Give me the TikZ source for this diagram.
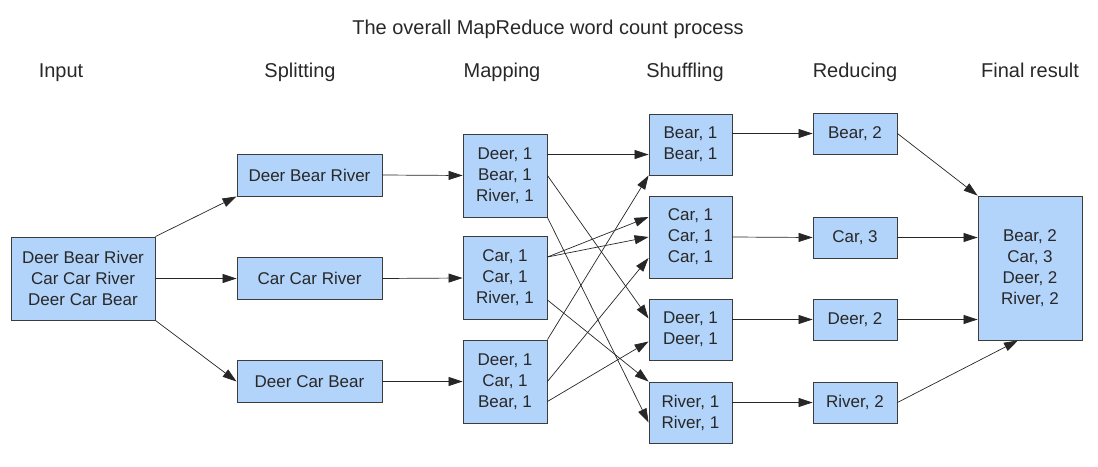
\documentclass[tikz,border=0pt]{standalone}
\usepackage{fontspec}
\setmainfont{Liberation Sans}
\usetikzlibrary{arrows.meta}
\definecolor{boxblue}{RGB}{178,211,250}
\definecolor{boxline}{RGB}{60,60,60}
\definecolor{txtgray}{RGB}{40,40,40}
\begin{document}
\begin{tikzpicture}[x=1pt,y=-1pt,
		wbox/.style={draw=boxline,fill=boxblue,line width=0.9pt,inner sep=0pt,align=center,text=txtgray,font=\fontsize{17}{21}\selectfont},
		head/.style={anchor=base,text=txtgray,font=\fontsize{20}{24}\selectfont},
		flow/.style={-{Triangle[length=14pt,width=9pt]},line width=0.7pt,draw=black!85}]
			\useasboundingbox (0,0) rectangle (1098,466);
			\node[head] at (548,34) (title) {The overall MapReduce word count process};
			\node[head] at (61,77) (hin) {Input};
			\node[head] at (300,77) (hsp) {Splitting};
			\node[head] at (502,77) (hmap) {Mapping};
			\node[head] at (685,77) (hsh) {Shuffling};
			\node[head] at (855,77) (hred) {Reducing};
			\node[head] at (1030,77) (hfin) {Final result};
			\node[wbox,minimum width=144pt,minimum height=83pt] at (83,278.5) (inp) {Deer Bear River\\Car Car River\\Deer Car Bear};
			\node[wbox,minimum width=145pt,minimum height=42pt] at (309.5,175) (spl1) {Deer Bear River};
			\node[wbox,minimum width=145pt,minimum height=42pt] at (309.5,278.5) (spl2) {Car Car River};
			\node[wbox,minimum width=145pt,minimum height=42pt] at (309.5,381.5) (spl3) {Deer Car Bear};
			\node[wbox,minimum width=84pt,minimum height=83pt] at (505,175.5) (map1) {Deer, 1\\Bear, 1\\River, 1};
			\node[wbox,minimum width=84pt,minimum height=83pt] at (505,278) (map2) {Car, 1\\Car, 1\\River, 1};
			\node[wbox,minimum width=84pt,minimum height=83pt] at (505,381.5) (map3) {Deer, 1\\Car, 1\\Bear, 1};
			\node[wbox,minimum width=83pt,minimum height=61pt] at (690.5,144.5) (shb) {Bear, 1\\Bear, 1};
			\node[wbox,minimum width=83pt,minimum height=82pt] at (690.5,237) (shc) {Car, 1\\Car, 1\\Car, 1};
			\node[wbox,minimum width=83pt,minimum height=61pt] at (690.5,329.5) (shd) {Deer, 1\\Deer, 1};
			\node[wbox,minimum width=83pt,minimum height=61pt] at (690.5,412.5) (shr) {River, 1\\River, 1};
			\node[wbox,minimum width=84pt,minimum height=41pt] at (855,133.5) (red1) {Bear, 2};
			\node[wbox,minimum width=84pt,minimum height=41pt] at (855,237.5) (red2) {Car, 3};
			\node[wbox,minimum width=84pt,minimum height=41pt] at (855,319.5) (red3) {Deer, 2};
			\node[wbox,minimum width=84pt,minimum height=41pt] at (855,402.5) (red4) {River, 2};
			\node[wbox,minimum width=104pt,minimum height=144pt] at (1030,268) (fin) {Bear, 2\\Car, 3\\Deer, 2\\River, 2};
			\draw[flow] (inp.north east) -- (spl1.south west);
			\draw[flow] (inp.east) -- (spl2.west);
			\draw[flow] (inp.south east) -- (spl3.west);
			\draw[flow] (spl1.east) -- (map1.west);
			\draw[flow] (spl2.east) -- (map2.west);
			\draw[flow] (spl3.east) -- (map3.west);
			\draw[flow] ([yshift=21pt]map1.east) -- ([yshift=21pt]map1.east -| shb.west);
			\draw[flow] (map1.east) -- ([yshift=11pt]shd.west);
			\draw[flow] (map1.south east) -- ([yshift=-10pt]shr.west);
			\draw[flow] ([yshift=21pt]map2.east) -- ([yshift=20pt]shc.west);
			\draw[flow] ([yshift=21pt]map2.east) -- (shc.west);
			\draw[flow] ([yshift=-22pt]map2.east) -- (shr.north west);
			\draw[flow] (map3.north east) -- (shb.south west);
			\draw[flow] (map3.east) -- ([yshift=-21pt]shc.west);
			\draw[flow] ([yshift=-20pt]map3.east) -- ([yshift=-12pt]shd.west);
			\draw[flow] (red1.west -| shb.east) -- (red1.west);
			\draw[flow] (shc.east) -- (red2.west);
			\draw[flow] (red3.west -| shd.east) -- (red3.west);
			\draw[flow] (red4.west -| shr.east) -- (red4.west);
			\draw[flow] (red1.east) -- (fin.north west);
			\draw[flow] (red2.east) -- (red2.east -| fin.west);
			\draw[flow] (red3.east) -- (red3.east -| fin.west);
			\draw[flow] (red4.east) -- ([xshift=-12pt]fin.south);
		\end{tikzpicture}
\end{document}
